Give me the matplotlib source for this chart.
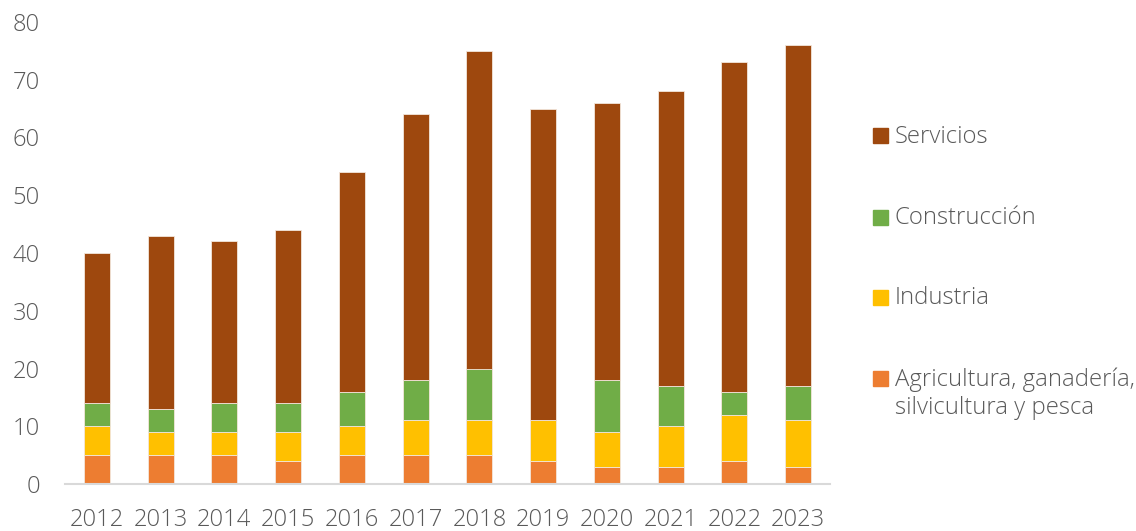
import numpy as np
import matplotlib
matplotlib.use('Agg')
import matplotlib.pyplot as plt
from matplotlib.patches import Rectangle

years = ['2012', '2013', '2014', '2015', '2016', '2017',
         '2018', '2019', '2020', '2021', '2022', '2023']
agricultura = [5, 5, 5, 4, 5, 5, 5, 4, 3, 3, 4, 3]
industria = [5, 4, 4, 5, 5, 6, 6, 7, 6, 7, 8, 8]
construccion = [4, 4, 5, 5, 6, 7, 9, 0, 9, 7, 4, 6]
servicios = [26, 30, 28, 30, 38, 46, 55, 54, 48, 51, 57, 59]

labels = ['Agricultura, ganadería,\nsilvicultura y pesca', 'Industria',
          'Construcción', 'Servicios']
colors = ['#ED7D31', '#FFC000', '#70AD47', '#9E480E']

plt.rcParams['font.family'] = ['Open Sans', 'DejaVu Sans']
plt.rcParams['font.weight'] = 'light'
text_color = '#595959'

W, H = 1136, 531
fig = plt.figure(figsize=(W / 100, H / 100), dpi=100)
ax = fig.add_axes([65 / W, 1 - 484 / H, (830 - 65) / W, (484 - 22) / H])

x = np.arange(len(years))
series = [agricultura, industria, construccion, servicios]
bottom = np.zeros(len(years))
for vals, c in zip(series, colors):
    ax.bar(x, vals, width=0.41, bottom=bottom, color=c,
           edgecolor='#f3e6dc', linewidth=0.6)
    bottom += np.array(vals)

ax.set_xlim(-0.5, len(years) - 0.5)
ax.set_ylim(0, 80)
ax.set_yticks(range(0, 81, 10))
ax.set_xticks(x)
ax.set_xticklabels(years)
for s in ['top', 'right', 'left']:
    ax.spines[s].set_visible(False)
ax.spines['bottom'].set_color('#D9D9D9')
ax.spines['bottom'].set_linewidth(1.5)
ax.tick_params(axis='both', length=0, labelsize=17.1, colors=text_color)
ax.tick_params(axis='y', pad=18)
ax.tick_params(axis='x', pad=17)

# legend drawn by hand (servicios on top)
ys = [378, 297, 217, 135.5]
for lab, c, yc in zip(labels, colors, ys):
    fig.add_artist(Rectangle((873 / W, 1 - (yc + 7.5) / H), 15 / W, 15 / H,
                             transform=fig.transFigure, color=c))
    fig.text(895 / W, 1 - (yc - 10.5) / H, lab, va='top', ha='left',
             fontsize=17.2, color=text_color, linespacing=1.25)

fig.savefig('out.png', dpi=100)
